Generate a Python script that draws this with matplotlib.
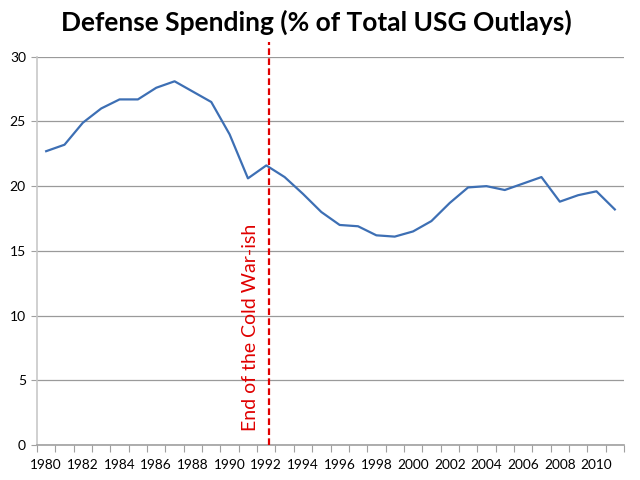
import matplotlib.pyplot as plt

years = list(range(1980, 2012))
defense_pct = [22.7, 23.2, 24.9, 26.0, 26.7, 26.7, 27.6, 28.1, 27.3, 26.5,
               24.0, 20.6, 21.6, 20.7, 19.4, 18.0, 17.0, 16.9, 16.2, 16.1,
               16.5, 17.3, 18.7, 19.9, 20.0, 19.7, 20.2, 20.7, 18.8, 19.3,
               19.6, 18.2]
cold_war_end = 1992
yticks = [0, 5, 10, 15, 20, 25, 30]

plt.rcParams['font.family'] = ['Lato', 'DejaVu Sans']

fig = plt.figure(figsize=(6.4, 4.8), dpi=100)
ax = fig.add_axes([37 / 640, 35 / 480, 587 / 640, 388.3 / 480])

idx = list(range(len(years)))
ax.plot(idx, defense_pct, color='#3d6fb4', lw=1.6, zorder=3)

ax.set_xlim(-0.5, len(years) - 0.5)
ax.set_ylim(0, 30)
ax.set_yticks(yticks)
ax.yaxis.grid(True, color='#9a9a9a', lw=0.9)
ax.set_axisbelow(True)

# category axis: ticks between categories, labels every other year
ax.set_xticks([i - 0.5 for i in range(len(years) + 1)])
ax.set_xticklabels([])
ax.set_xticks(idx[::2], [str(y) for y in years[::2]], minor=True)
ax.tick_params(axis='x', which='major', length=5, color='#a0a0a0', direction='out')
ax.tick_params(axis='x', which='minor', length=0, labelsize=9.8, pad=10)
ax.tick_params(axis='y', length=4, color='#a0a0a0', labelsize=10, pad=4)

for s in ['top', 'right']:
    ax.spines[s].set_visible(False)
ax.spines['left'].set_color('#c8c8c8')
ax.spines['bottom'].set_color('#a0a0a0')
ax.spines['left'].set_linewidth(1.2)
ax.spines['bottom'].set_linewidth(1.2)

xe = years.index(cold_war_end) + 0.15
ax.plot([xe, xe], [0, 31.15], color='#e00000', lw=1.6, ls=(0, (3, 1.5)),
        clip_on=False, zorder=4)
ax.text(xe - 1.0, 1.1, 'End of the Cold War-ish', rotation=90, color='#e00000',
        fontsize=14, ha='center', va='bottom')

fig.text(0.495, 0.953, 'Defense Spending (% of Total USG Outlays)',
         fontsize=19, fontweight='bold', ha='center', va='center')

fig.savefig('out.png', dpi=100)
